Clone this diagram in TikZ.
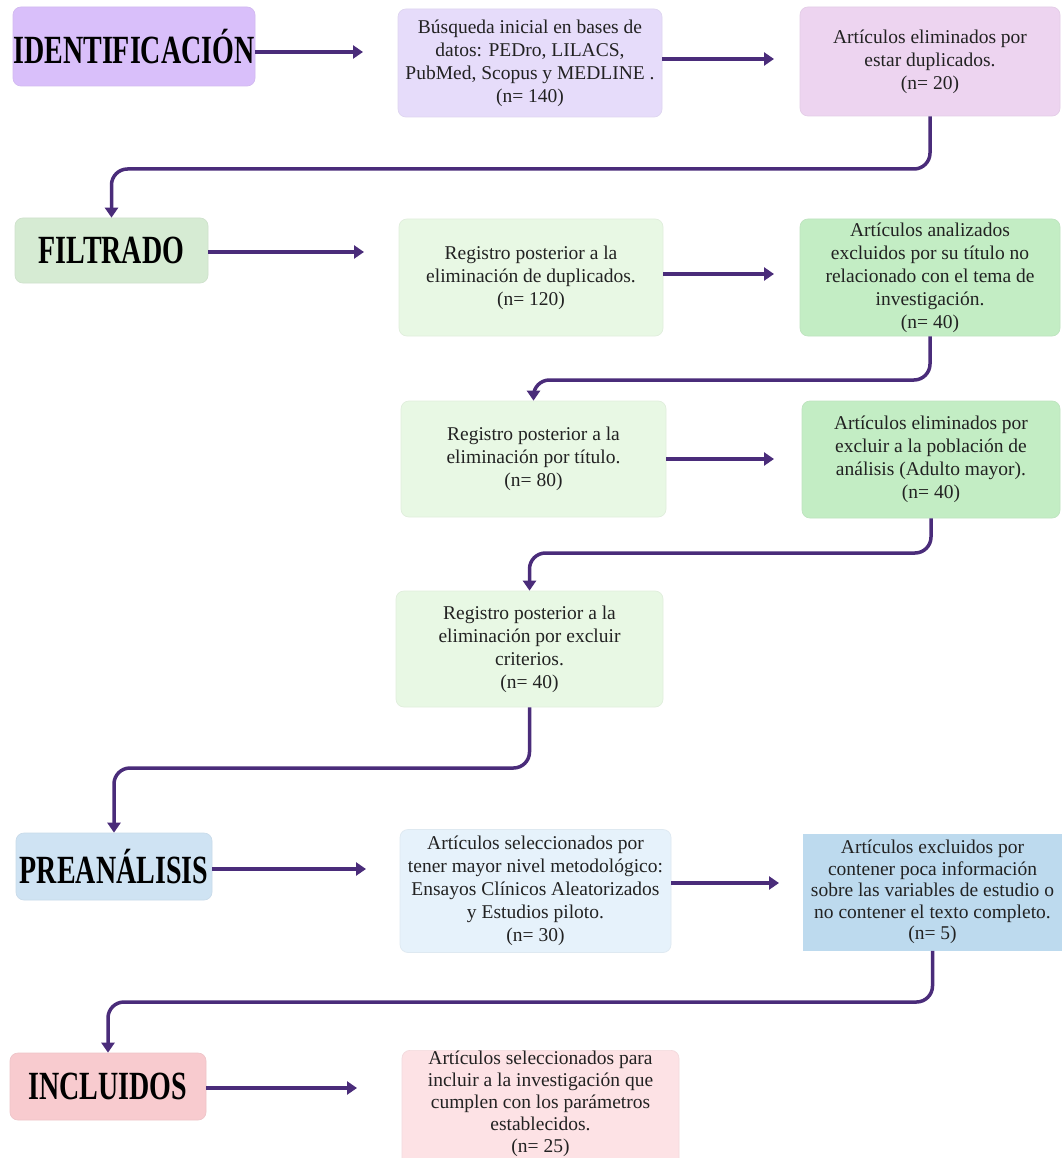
\documentclass[tikz,border=0pt]{standalone}
\usepackage{fontspec}
\setmainfont{Liberation Serif}
\newfontfamily\headfont{Liberation Serif}[FakeStretch=0.7]
\usetikzlibrary{arrows.meta}
\definecolor{cid}{HTML}{D9BFFA}
\definecolor{cbusq}{HTML}{E6DCFA}
\definecolor{cdup}{HTML}{EDD4F0}
\definecolor{cfilt}{HTML}{D6EBD3}
\definecolor{creg}{HTML}{E8F8E4}
\definecolor{cexcl}{HTML}{C3EDC4}
\definecolor{cpre}{HTML}{CFE3F3}
\definecolor{csel}{HTML}{E6F2FB}
\definecolor{cexc}{HTML}{BDDAEE}
\definecolor{cinc}{HTML}{F8CBCF}
\definecolor{cfin}{HTML}{FDE2E5}
\definecolor{arrowc}{HTML}{4A2C7A}
\definecolor{txt}{HTML}{222222}
\begin{document}
\begin{tikzpicture}[x=1pt,y=-1pt,
  box/.style={rounded corners=8pt, inner sep=0pt, align=center,
    font=\fontsize{19.5}{23}\selectfont, text=txt, line width=0.7pt},
  head/.style={box, font=\headfont\bfseries\fontsize{40}{40}\selectfont, text=black},
  conn/.style={draw=arrowc, line width=3.5pt, rounded corners=16pt,
    -{Triangle[length=10pt,width=13pt]}},
  harrow/.style={draw=arrowc, line width=3.5pt, -{Triangle[length=10pt,width=13pt]}}]
\useasboundingbox (0,0) rectangle (1062,1158);
\clip (0,0) rectangle (1062,1158);
\fill[white] (0,0) rectangle (1062,1158);

% row 1
\node[head, fill=cid, draw=cid!92!gray, minimum width=242pt, minimum height=79pt] (id) at (134,46.5) {IDENTIFICACIÓN};
\node[box, fill=cbusq, draw=cbusq!92!gray, minimum width=264pt, minimum height=108pt] (busq) at (530,63) {Búsqueda inicial en bases de\\datos: PEDro, LILACS,\\PubMed, Scopus y MEDLINE .\\(n= 140)};
\node[box, fill=cdup, draw=cdup!92!gray, minimum width=260pt, minimum height=109pt] (dup) at (930,61.5) {Artículos eliminados por\\estar duplicados.\\(n= 20)};

% row 2
\node[head, fill=cfilt, draw=cfilt!92!gray, minimum width=193pt, minimum height=65pt] (filt) at (111.5,250.5) {FILTRADO};
\node[box, fill=creg, draw=creg!92!gray, minimum width=264pt, minimum height=117pt] (reg120) at (531,277.5) {Registro posterior a la\\eliminación de duplicados.\\(n= 120)};
\node[box, fill=cexcl, draw=cexcl!92!gray, minimum width=260pt, minimum height=117pt] (anal) at (930,277.5) {Artículos analizados\\excluidos por su título no\\relacionado con el tema de\\investigación.\\(n= 40)};

% row 3
\node[box, fill=creg, draw=creg!92!gray, minimum width=265pt, minimum height=116pt] (reg80) at (533.5,459) {Registro posterior a la\\eliminación por título.\\(n= 80)};
\node[box, fill=cexcl, draw=cexcl!92!gray, minimum width=258pt, minimum height=117pt] (pobl) at (931,459.5) {Artículos eliminados por\\excluir a la población de\\análisis (Adulto mayor).\\(n= 40)};

% row 4
\node[box, fill=creg, draw=creg!92!gray, minimum width=267pt, minimum height=116pt] (crit) at (529.5,649) {Registro posterior a la\\eliminación por excluir\\criterios.\\(n= 40)};

% row 5
\node[head, fill=cpre, draw=cpre!92!gray, minimum width=196pt, minimum height=67pt] (pre) at (114,866.5) {PREANÁLISIS};
\node[box, fill=csel, draw=csel!92!gray, minimum width=271pt, minimum height=123pt] (sel) at (535.5,891) {Artículos seleccionados por\\tener mayor nivel metodológico:\\Ensayos Clínicos Aleatorizados\\y Estudios piloto.\\(n= 30)};
\node[box, sharp corners, fill=cexc, minimum width=259pt, minimum height=117pt, font=\fontsize{19.5}{21.5}\selectfont] (exc) at (932.5,892) {Artículos excluidos por\\contener poca información\\sobre las variables de estudio o\\no contener el texto completo.\\(n= 5)};

% row 6
\node[head, fill=cinc, draw=cinc!92!gray, minimum width=196pt, minimum height=67pt] (inc) at (108,1086.5) {INCLUIDOS};
\node[box, fill=cfin, draw=cfin!92!gray, minimum width=277pt, minimum height=130pt, anchor=north] (fin) at (540.5,1050) {};
\node[inner sep=0pt, align=center, font=\fontsize{19.5}{22}\selectfont, text=txt, anchor=south] (fintxt) at (540.5,1157) {Artículos seleccionados para\\incluir a la investigación que\\cumplen con los parámetros\\establecidos.\\(n= 25)};

% free ends of horizontal arrows
\coordinate (a1) at (363,52);
\coordinate (a2) at (774,59);
\coordinate (a3) at (364,252);
\coordinate (a4) at (774,274);
\coordinate (a5) at (774,459);
\coordinate (a6) at (366,869);
\coordinate (a7) at (779,883);
\coordinate (a8) at (357,1088);

\draw[harrow] (id.east |- a1) -- (a1);
\draw[harrow] (busq.east |- a2) -- (a2);
\draw[harrow] (filt.east |- a3) -- (a3);
\draw[harrow] (reg120.east |- a4) -- (a4);
\draw[harrow] (reg80.east |- a5) -- (a5);
\draw[harrow] (pre.east |- a6) -- (a6);
\draw[harrow] (sel.east |- a7) -- (a7);
\draw[harrow] (inc.east |- a8) -- (a8);

% elbow connectors
\coordinate (h1) at (0,169);
\coordinate (h2) at (0,380);
\coordinate (h3) at (0,553);
\coordinate (h4) at (0,768);
\coordinate (h5) at (0,1002);
\draw[conn] (dup.south) -- (dup.south |- h1) -| (filt.north);
\draw[conn] (anal.south) -- (anal.south |- h2) -| (reg80.north);
\draw[conn] (pobl.south) -- (pobl.south |- h3) -| (crit.north);
\draw[conn] (crit.south) -- (crit.south |- h4) -| (pre.north);
\draw[conn] (exc.south) -- (exc.south |- h5) -| (inc.north);
\end{tikzpicture}
\end{document}
